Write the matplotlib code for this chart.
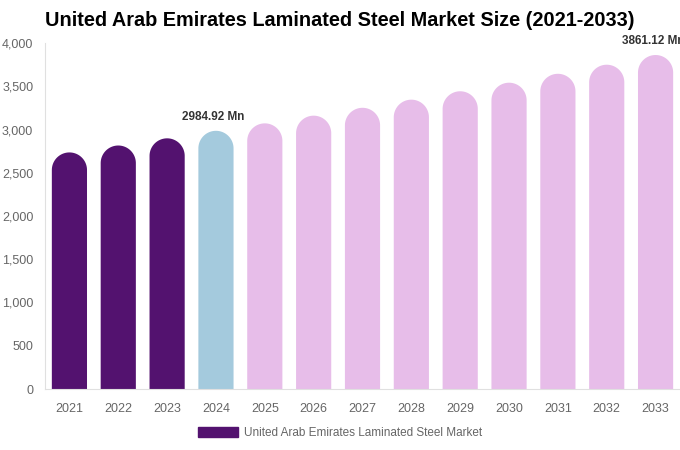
import numpy as np
import matplotlib.pyplot as plt
from matplotlib.path import Path
from matplotlib.patches import PathPatch

years = ["2021", "2022", "2023", "2024", "2025", "2026", "2027",
         "2028", "2029", "2030", "2031", "2032", "2033"]
values = [2735, 2815, 2898, 2984.92, 3071, 3160, 3251,
          3345, 3442, 3541, 3644, 3749, 3861.12]
labels = {3: "2984.92 Mn", 12: "3861.12 Mn"}

dark = "#53126f"
blue = "#a4cadd"
pink = "#e7bde9"
colors = [dark] * 3 + [blue] + [pink] * 9

plt.rcParams['font.family'] = ['Liberation Sans', 'DejaVu Sans']

W, H = 680, 450
fig = plt.figure(figsize=(W / 100, H / 100), dpi=100)
ax = fig.add_axes([45 / W, 61 / H, 635 / W, 346 / H])

ymax = 4000
xmin, xmax = -0.5, 12.5
ax.set_xlim(xmin, xmax)
ax.set_ylim(0, ymax)

bw = 0.72
# rounded cap: radius = half bar width in pixels, converted to data units
px_per_x = 635 / (xmax - xmin)
px_per_y = 346 / ymax
r_px = bw * px_per_x / 2
ry = r_px / px_per_y

t = np.linspace(0, np.pi, 60)
for i, v in enumerate(values):
    xs = [i + bw / 2] + list(i + bw / 2 * np.cos(t)) + [i - bw / 2]
    ys = [0] + list(v - ry + ry * np.sin(t)) + [0]
    verts = list(zip(xs, ys)) + [(xs[0], 0)]
    codes = [Path.MOVETO] + [Path.LINETO] * (len(verts) - 2) + [Path.CLOSEPOLY]
    ax.add_patch(PathPatch(Path(verts, codes), facecolor=colors[i],
                           linewidth=0))

for i, txt in labels.items():
    ax.text(i - 0.05, values[i] + 95, txt, ha="center", va="bottom",
            fontsize=8.5, fontweight="bold", color="#333333", clip_on=False)

ax.set_xticks(range(len(years)))
ax.set_xticklabels(years)
ax.set_yticks(range(0, 4001, 500))
ax.set_yticklabels([f"{v:,}" for v in range(0, 4001, 500)])
ax.tick_params(axis="both", length=0, labelsize=9, colors="#666666")
ax.tick_params(axis="x", pad=10)
ax.tick_params(axis="y", pad=8.5)

for s in ["top", "right"]:
    ax.spines[s].set_visible(False)
for s in ["left", "bottom"]:
    ax.spines[s].set_color("#e0e0e0")
    ax.spines[s].set_linewidth(0.8)

fig.text(340 / W, 1 - 21 / H,
         "United Arab Emirates Laminated Steel Market Size (2021-2033)",
         ha="center", va="center", fontsize=14.3, fontweight="bold",
         color="#000000")

handle = plt.Rectangle((0, 0), 1, 1, color=dark)
fig.legend([handle], ["United Arab Emirates Laminated Steel Market"],
           loc="center", bbox_to_anchor=(340 / W, 1 - 433 / H), frameon=False,
           fontsize=8.5, labelcolor="#666666", handlelength=3.4,
           handleheight=1.0, handletextpad=0.5)

fig.savefig("out.png", dpi=100)
